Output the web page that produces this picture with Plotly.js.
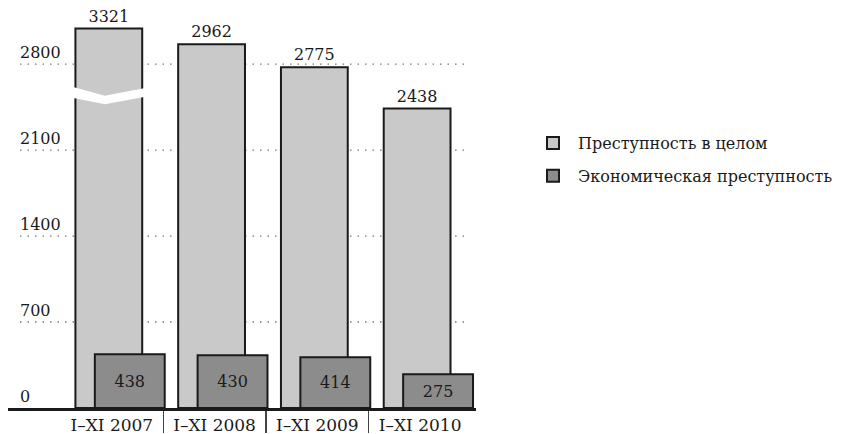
<!DOCTYPE html>
<html>
<head>
<meta charset="utf-8">
<script src="https://cdn.plot.ly/plotly-3.0.1.min.js"></script>
<style>
  html, body { margin: 0; padding: 0; background: #ffffff; }
  #chart { width: 845px; height: 434px; }
</style>
</head>
<body>
<div id="chart"></div>
<script>
// ---- data ----
const categories = ["I\u2013XI 2007", "I\u2013XI 2008", "I\u2013XI 2009", "I\u2013XI 2010"];
const totalCrime = [3321, 2962, 2775, 2438];
const economicCrime = [438, 430, 414, 275];
const yTickValues = [0, 700, 1400, 2100, 2800];
const seriesNames = ["Преступность в целом", "Экономическая преступность"];

// ---- layout constants ----
const FONT = "'DejaVu Serif', 'Liberation Serif', serif";
const INK = "#1a1a1a";
const brokenBarTop = 3090;           // tallest bar is drawn broken at this height
const xIdx = categories.map((_, i) => i);
const totalShown = totalCrime.map(v => Math.min(v, brokenBarTop));

const traceTotal = {
  type: "bar",
  name: seriesNames[0],
  legendgroup: "a",
  x: xIdx,
  y: totalShown,
  text: totalCrime.map(String),
  textposition: "outside",
  textfont: { family: FONT, size: 16, color: INK },
  cliponaxis: false,
  width: 0.65,
  offset: -0.354,
  marker: { color: "#c9c9c9", line: { color: INK, width: 2 } },
  hoverinfo: "skip"
};
const traceEcon = {
  type: "bar",
  name: seriesNames[1],
  legendgroup: "b",
  x: xIdx,
  y: economicCrime,
  text: economicCrime.map(String),
  textposition: "inside",
  insidetextanchor: "middle",
  constraintext: "none",
  textfont: { family: FONT, size: 16, color: INK },
  width: 0.68,
  offset: -0.165,
  marker: { color: "#8c8c8c", line: { color: INK, width: 2 } },
  hoverinfo: "skip"
};

// gridlines (dotted) for non-zero ticks
const shapes = yTickValues.filter(v => v > 0).map(v => ({
  type: "line", xref: "x", yref: "y", layer: "below",
  x0: -0.893, x1: 3.45, y0: v, y1: v,
  line: { color: "#777777", width: 1.4, dash: "1.5px,6px" }
}));
// break mark on the tallest bar
const bx0 = -0.354 - 0.03, bx1 = -0.354 + 0.65 + 0.03, bxm = -0.068;
shapes.push({
  type: "path", xref: "x", yref: "y", layer: "above",
  path: `M${bx0},2617 L${bxm},2543 L${bx1},2606 L${bx1},2535 L${bxm},2473 L${bx0},2527 Z`,
  fillcolor: "#ffffff", line: { width: 0 }
});

// y tick labels above gridlines
const annotations = yTickValues.map(v => ({
  xref: "paper", yref: "y", x: 10 / 469, y: v,
  xanchor: "left", yanchor: "bottom", yshift: 0,
  text: String(v), showarrow: false,
  font: { family: FONT, size: 16, color: INK }
}));

const layout = {
  width: 845, height: 434,
  margin: { l: 8, r: 368, t: 10, b: 26 },
  paper_bgcolor: "#ffffff", plot_bgcolor: "#ffffff",
  barmode: "overlay",
  showlegend: true,
  legend: {
    x: (528 - 8) / 469, xanchor: "left",
    y: 1 - (126 - 10) / 398, yanchor: "top",
    font: { family: FONT, size: 16, color: INK },
    traceorder: "grouped", tracegroupgap: 9,
    itemwidth: 40, bgcolor: "rgba(0,0,0,0)"
  },
  xaxis: {
    type: "linear", range: [-1.01, 3.544],
    tickmode: "array", tickvals: xIdx, ticktext: categories,
    ticks: "", showgrid: false, zeroline: false,
    showline: true, linecolor: INK, linewidth: 2.5,
    tickfont: { family: FONT, size: 17, color: INK },
    minor: { tickmode: "array", tickvals: [0.5, 1.5, 2.5], ticks: "outside",
             ticklen: 22, tickwidth: 1.2, tickcolor: "#444", showgrid: false },
    fixedrange: true
  },
  yaxis: {
    range: [0, 3241], showgrid: false, zeroline: false,
    showticklabels: false, ticks: "", showline: false, fixedrange: true
  },
  shapes: shapes,
  annotations: annotations
};

Plotly.newPlot("chart", [traceTotal, traceEcon], layout, { staticPlot: true, displayModeBar: false });
</script>
</body>
</html>
